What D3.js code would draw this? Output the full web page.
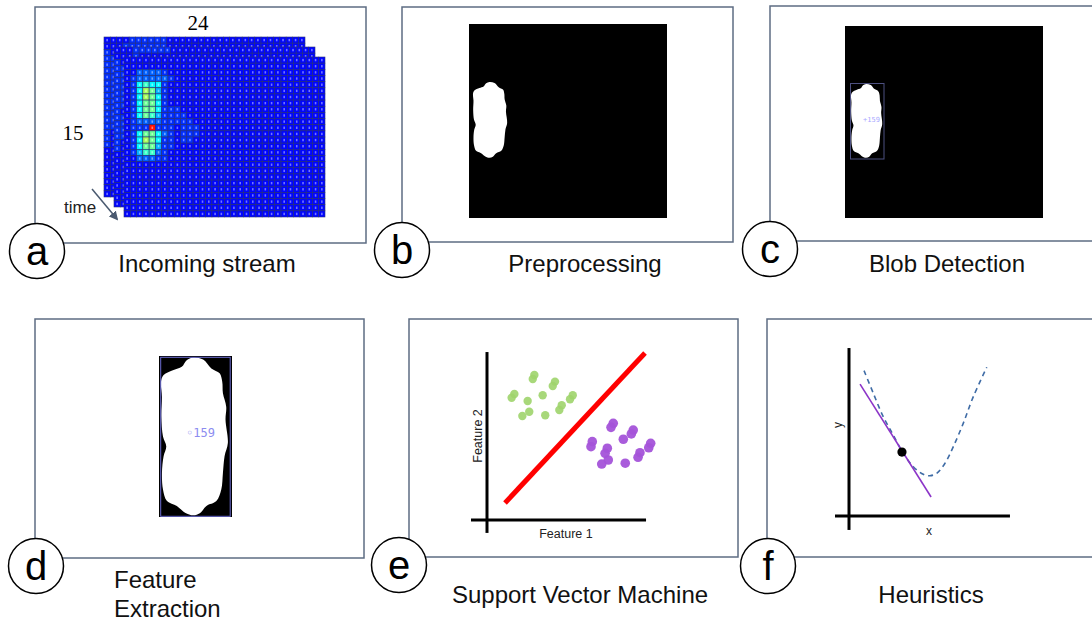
<!DOCTYPE html>
<html>
<head>
<meta charset="utf-8">
<script src="https://cdn.jsdelivr.net/npm/d3@7"></script>
<style>
  body { margin: 0; background: #fff; }
  svg { display: block; font-family: "Liberation Sans", Arial, sans-serif; }
</style>
</head>
<body>
<svg id="chart" width="1092" height="622"></svg>
<script>
// ---- data ----
var letters = ["a", "b", "c", "d", "e", "f"];
var titles = [["Incoming stream"], ["Preprocessing"], ["Blob Detection"], ["Feature", "Extraction"], ["Support Vector Machine"], ["Heuristics"]];

// heat levels per cell (0 = cold blue ... 9 = red), rows top->bottom, missing cols are 0
var heatBack = [
  "00001111110000", "00011111110000", "1", "11", "11", "11", "11", "11", "11", "11",
  "11", "11", "11", "11", "11", "1", "1", "1"
];
var heatMid = [
  "00011111100000", "0001", "1", "11", "11", "11", "11", "11", "11", "11",
  "1", "11", "11", "11", "11", "1", "1"
];
var heatFront = [
  "", "",
  "00222210000000",
  "01222221000000",
  "01454410000000",
  "01476310000000",
  "01476410000000",
  "01466410000000",
  "01466411100000",
  "01465311110000",
  "01222211111000",
  "01119111011100",
  "01466421011100",
  "01476411011000",
  "01466311000000",
  "01355210000000",
  "00222110000000"
];
var heatLevels = [0.13, 0.17, 0.22, 0.3, 0.37, 0.43, 0.48, 0.54, 0.65, 0.86];
var gridCols = 32, gridRows = 26;

// blob outline, normalised to its bounding box
var blobOutline = [
  [0.47, 0.0], [0.615, 0.013], [0.735, 0.069], [0.856, 0.10], [0.894, 0.153], [0.904, 0.226],
  [0.952, 0.31], [0.942, 0.393], [0.976, 0.54], [0.928, 0.623], [0.904, 0.728], [0.88, 0.833],
  [0.808, 0.906], [0.663, 0.937], [0.567, 0.983], [0.471, 0.996], [0.351, 0.979], [0.231, 0.937],
  [0.087, 0.906], [0.029, 0.833], [0.014, 0.728], [0.038, 0.623], [0.077, 0.561], [0.029, 0.498],
  [0.005, 0.372], [0.014, 0.247], [0.0, 0.153], [0.038, 0.111], [0.183, 0.079], [0.303, 0.059],
  [0.375, 0.017]
];
var blobId = "159";

// SVM panel (feature units)
var greenPoints = [
  [2.96, 8.53], [2.86, 8.29], [4.25, 8.14], [4.11, 7.88], [1.71, 7.41], [1.54, 7.19], [3.48, 7.34],
  [2.54, 7.0], [5.36, 7.34], [5.19, 7.10], [4.67, 6.75], [4.52, 6.47], [2.64, 6.37], [2.21, 6.12], [3.64, 6.16]
];
var purplePoints = [
  [7.89, 5.69], [7.75, 5.45], [9.14, 5.29], [9.02, 5.06], [8.52, 4.75], [6.58, 4.61], [6.5, 4.31],
  [7.52, 4.22], [7.38, 3.92], [7.58, 3.53], [7.17, 3.29], [10.23, 4.51], [10.11, 4.25], [9.56, 3.96],
  [9.44, 3.69], [8.64, 3.34]
];
var boundary = [[1.125, 1.0], [9.875, 9.82]];

// heuristics panel
var curvePoints = [
  [0.94, 8.55], [1.52, 7.22], [2.14, 5.84], [2.77, 4.76], [3.39, 3.69], [4.02, 2.90], [4.64, 2.45],
  [5.06, 2.37], [5.48, 2.51], [6.0, 3.10], [6.52, 4.08], [7.14, 5.45], [7.77, 7.02], [8.61, 8.75]
];
var tangentLine = [[0.69, 7.76], [5.13, 1.12]];
var tangentPoint = [3.31, 3.76];

// ---- layout ----
var frames = [
  {x: 35, y: 7, w: 331, h: 236, cx: 37, cy: 251, tx: 207, ty: 272, anchor: "middle"},
  {x: 402, y: 7, w: 331, h: 235, cx: 402, cy: 250, tx: 585, ty: 272, anchor: "middle"},
  {x: 770, y: 6, w: 340, h: 235, cx: 770, cy: 249, tx: 947, ty: 272, anchor: "middle"},
  {x: 35, y: 319, w: 329, h: 239, cx: 36, cy: 566, tx: 114, ty: 588, anchor: "start"},
  {x: 409, y: 319, w: 329, h: 238, cx: 399, cy: 565, tx: 580, ty: 603, anchor: "middle"},
  {x: 767, y: 319, w: 340, h: 238, cx: 768, cy: 566, tx: 931, ty: 603, anchor: "middle"}
];

var svg = d3.select("#chart");

var frameG = svg.append("g");
frameG.selectAll("rect").data(frames).enter().append("rect")
  .attr("x", function(d) { return d.x; })
  .attr("y", function(d) { return d.y; })
  .attr("width", function(d) { return d.w; })
  .attr("height", function(d) { return d.h; })
  .attr("fill", "#fff")
  .attr("stroke", "#5d6c83")
  .attr("stroke-width", 1.5);

// ---- (a) incoming stream ----
var jet = d3.scaleLinear()
  .domain([0, 0.125, 0.375, 0.625, 0.875, 1])
  .range(["#00007f", "#0000ff", "#00ffff", "#ffff00", "#ff0000", "#7f0000"]);

function drawLayer(rows, x0, y0) {
  var xs = d3.scaleBand().domain(d3.range(gridCols)).range([x0, x0 + 201]);
  var ys = d3.scaleBand().domain(d3.range(gridRows)).range([y0, y0 + 160]);
  var cells = [];
  d3.range(gridRows).forEach(function(r) {
    var s = rows[r] || "";
    d3.range(gridCols).forEach(function(c) {
      var lv = c < s.length ? +s[c] : 0;
      cells.push({r: r, c: c, v: heatLevels[lv]});
    });
  });
  var g = svg.append("g");
  g.append("rect").attr("x", x0).attr("y", y0).attr("width", 201).attr("height", 160).attr("fill", "#2a3480");
  var cell = g.selectAll("g").data(cells).enter().append("g");
  cell.append("rect")
    .attr("x", function(d) { return xs(d.c); })
    .attr("y", function(d) { return ys(d.r); })
    .attr("width", xs.bandwidth())
    .attr("height", ys.bandwidth())
    .attr("fill", function(d) { return jet(d.v); })
    .attr("stroke", "#2c3478")
    .attr("stroke-width", 0.6);
  cell.append("rect")
    .attr("x", function(d) { return xs(d.c) + xs.bandwidth() / 2 - 0.8; })
    .attr("y", function(d) { return ys(d.r) + ys.bandwidth() / 2 - 1.2; })
    .attr("width", 1.6)
    .attr("height", 2.4)
    .attr("fill", "#fff")
    .attr("opacity", 0.45);
}
drawLayer(heatBack, 104, 37);
drawLayer(heatMid, 114, 47);
drawLayer(heatFront, 124, 57);

svg.append("text").attr("x", 198).attr("y", 30).attr("text-anchor", "middle")
  .attr("font-family", "Liberation Serif, Times New Roman, serif").attr("font-size", 21).text("24");
svg.append("text").attr("x", 73).attr("y", 140).attr("text-anchor", "middle")
  .attr("font-family", "Liberation Serif, Times New Roman, serif").attr("font-size", 21).text("15");
svg.append("text").attr("x", 64).attr("y", 213).attr("font-size", 17).attr("fill", "#222").text("time");

svg.append("defs").append("marker")
  .attr("id", "arrow").attr("viewBox", "0 0 10 10").attr("refX", 8).attr("refY", 5)
  .attr("markerWidth", 6).attr("markerHeight", 6).attr("orient", "auto")
  .append("path").attr("d", "M0,0 L10,5 L0,10 z").attr("fill", "#4a5a70");
svg.append("line").attr("x1", 92).attr("y1", 189).attr("x2", 117).attr("y2", 219)
  .attr("stroke", "#4a5a70").attr("stroke-width", 1.5).attr("marker-end", "url(#arrow)");

// ---- blobs (b, c, d) ----
function blobPath(x0, x1, y0, y1) {
  var bx = d3.scaleLinear().domain([0, 1]).range([x0, x1]);
  var by = d3.scaleLinear().domain([0, 1]).range([y0, y1]);
  return d3.line().x(function(d) { return bx(d[0]); }).y(function(d) { return by(d[1]); })
    .curve(d3.curveCatmullRomClosed)(blobOutline);
}

// b
svg.append("rect").attr("x", 469).attr("y", 24).attr("width", 198).attr("height", 194).attr("fill", "#000");
svg.append("path").attr("d", blobPath(473, 508, 82, 158)).attr("fill", "#fff");

// c
svg.append("rect").attr("x", 845).attr("y", 26).attr("width", 198).attr("height", 192).attr("fill", "#000");
svg.append("path").attr("d", blobPath(851, 883, 84, 158)).attr("fill", "#fff");
svg.append("rect").attr("x", 850.5).attr("y", 83.5).attr("width", 33.5).attr("height", 75.5)
  .attr("fill", "none").attr("stroke", "#4d5080").attr("stroke-width", 1);
svg.append("text").attr("x", 863).attr("y", 122).attr("font-size", 7)
  .attr("font-family", "DejaVu Sans Mono, monospace").attr("fill", "#a8a8ff").text("+" + blobId);

// d
svg.append("rect").attr("x", 159).attr("y", 356).attr("width", 73).attr("height", 161).attr("fill", "#000");
svg.append("path").attr("d", blobPath(161, 229.5, 357.5, 516)).attr("fill", "#fff");
svg.append("rect").attr("x", 160.7).attr("y", 357.3).attr("width", 69.5).attr("height", 159)
  .attr("fill", "none").attr("stroke", "#6b6bd0").attr("stroke-width", 1);
svg.append("text").attr("x", 186).attr("y", 437).attr("font-size", 12)
  .attr("font-family", "DejaVu Sans Mono, monospace").attr("fill", "#8c8cf0").text("\u25e6" + blobId);

// ---- (e) SVM ----
var ex = d3.scaleLinear().domain([0, 10]).range([487, 647]);
var ey = d3.scaleLinear().domain([0, 10]).range([520, 350]);
var eg = svg.append("g");
eg.append("line").attr("x1", ex(0)).attr("x2", ex(0)).attr("y1", ey(-0.76)).attr("y2", ey(9.88))
  .attr("stroke", "#000").attr("stroke-width", 3);
eg.append("line").attr("x1", ex(-1)).attr("x2", ex(9.94)).attr("y1", ey(0)).attr("y2", ey(0))
  .attr("stroke", "#000").attr("stroke-width", 3);
eg.selectAll(".g").data(greenPoints).enter().append("circle").attr("class", "g")
  .attr("cx", function(d) { return ex(d[0]); }).attr("cy", function(d) { return ey(d[1]); })
  .attr("r", 4.2).attr("fill", "#9fd46c").attr("opacity", 0.9);
eg.selectAll(".p").data(purplePoints).enter().append("circle").attr("class", "p")
  .attr("cx", function(d) { return ex(d[0]); }).attr("cy", function(d) { return ey(d[1]); })
  .attr("r", 4.8).attr("fill", "#a453d9").attr("opacity", 0.95);
eg.append("path").datum(boundary)
  .attr("d", d3.line().x(function(d) { return ex(d[0]); }).y(function(d) { return ey(d[1]); }))
  .attr("stroke", "#ff0000").attr("stroke-width", 5).attr("fill", "none");
eg.append("text").attr("x", 566).attr("y", 538).attr("text-anchor", "middle").attr("font-size", 12.5)
  .attr("fill", "#222").text("Feature 1");
eg.append("text").attr("transform", "translate(482,436) rotate(-90)").attr("text-anchor", "middle")
  .attr("font-size", 12.5).attr("fill", "#222").text("Feature 2");

// ---- (f) heuristics ----
var fx = d3.scaleLinear().domain([0, 10]).range([849, 1009]);
var fy = d3.scaleLinear().domain([0, 10]).range([516, 346]);
var fg = svg.append("g");
fg.append("line").attr("x1", fx(0)).attr("x2", fx(0)).attr("y1", fy(-0.82)).attr("y2", fy(9.88))
  .attr("stroke", "#000").attr("stroke-width", 3);
fg.append("line").attr("x1", fx(-0.875)).attr("x2", fx(10.06)).attr("y1", fy(0)).attr("y2", fy(0))
  .attr("stroke", "#000").attr("stroke-width", 3);
var fline = d3.line().x(function(d) { return fx(d[0]); }).y(function(d) { return fy(d[1]); });
fg.append("path").datum(curvePoints).attr("d", fline.curve(d3.curveCatmullRom))
  .attr("fill", "none").attr("stroke", "#3f6ca6").attr("stroke-width", 1.6).attr("stroke-dasharray", "5,4");
fg.append("path").datum(tangentLine).attr("d", fline.curve(d3.curveLinear))
  .attr("fill", "none").attr("stroke", "#8c35c8").attr("stroke-width", 1.6);
fg.append("circle").attr("cx", fx(tangentPoint[0])).attr("cy", fy(tangentPoint[1])).attr("r", 4.6).attr("fill", "#000");
fg.append("text").attr("x", fx(5)).attr("y", 535).attr("text-anchor", "middle").attr("font-size", 12)
  .attr("fill", "#222").text("x");
fg.append("text").attr("transform", "translate(842,425) rotate(-90)").attr("text-anchor", "middle")
  .attr("font-size", 12).attr("fill", "#222").text("y");

// ---- letter circles and titles ----
var lg = svg.append("g");
var badge = lg.selectAll("g").data(frames).enter().append("g");
badge.append("circle")
  .attr("cx", function(d) { return d.cx; }).attr("cy", function(d) { return d.cy; })
  .attr("r", 27.5).attr("fill", "#fff").attr("stroke", "#000").attr("stroke-width", 1.5);
badge.append("text")
  .attr("x", function(d) { return d.cx; }).attr("y", function(d) { return d.cy; })
  .attr("dy", "0.35em").attr("text-anchor", "middle").attr("font-size", 40)
  .text(function(d, i) { return letters[i]; });

var tg = svg.append("g");
frames.forEach(function(f, i) {
  var t = tg.append("text").attr("x", f.tx).attr("y", f.ty).attr("text-anchor", f.anchor)
    .attr("font-size", 24).attr("fill", "#111");
  titles[i].forEach(function(line, k) {
    t.append("tspan").attr("x", f.tx).attr("dy", k === 0 ? 0 : 29).text(line);
  });
});
</script>
</body>
</html>
